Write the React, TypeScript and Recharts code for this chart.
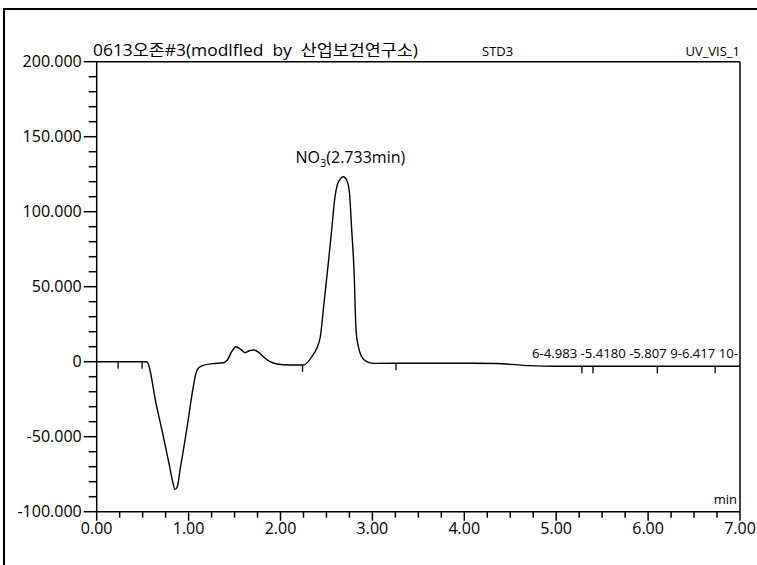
import React from 'react';
import { LineChart, Line, XAxis, YAxis, ReferenceLine, ReferenceDot, Customized } from 'recharts';

// Retention time (min)
const times = [
  0.0, 0.25, 0.5, 0.544, 0.653, 0.725, 0.798, 0.827, 0.852, 0.877, 0.907, 0.979, 1.051, 1.08, 1.105,
  1.16, 1.269, 1.378, 1.421, 1.469, 1.516, 1.567, 1.614, 1.66, 1.712, 1.763, 1.813, 1.886, 1.959,
  2.103, 2.248, 2.34, 2.43, 2.473, 2.52, 2.557, 2.593, 2.618, 2.647, 2.684, 2.72, 2.749, 2.775, 2.8,
  2.822, 2.847, 2.884, 2.938, 3.01, 3.5, 4.0, 4.35, 4.7, 5.0, 6.0, 7.0,
];
// Signal (mAU)
const signal = [
  0, 0, 0, 0, -30, -49.8, -71.3, -80, -85.1, -83.3, -72.2, -45.5, -16.7, -7.8, -4.4,
  -2.4, -1.3, -0.7, 1.1, 6.7, 10, 8.2, 6, 7.3, 7.8, 6.2, 3.3, 0, -1.5,
  -2.2, -2.2, 3.3, 15.6, 38.9, 65.6, 87.8, 110, 117.8, 121.6, 123.3, 121.1, 113.3, 87.8, 61.1,
  21.1, 10, 3.3, 0, -1.1, -1, -1, -1.2, -2.6, -3, -3, -3,
];

// Peak delimiter markers on the baseline
const markerTimes = [0.233, 0.494, 2.24, 3.257, 5.28, 5.4, 6.1, 6.73];
const markerValues = [0, 0, -2.2, -1, -3, -3, -3, -3];

const xTicks = Array.from({ length: 29 }, (_, i) => i * 0.25);
const yTicks = Array.from({ length: 31 }, (_, i) => -100 + i * 10);

const titleText = '0613오존#3(modlfled  by  산업보건연구소)';
const sampleText = 'STD3';
const channelText = 'UV_VIS_1';
const peakLabelText = '6-4.983 -5.4180 -5.807 9-6.417 10-';
const peakTime = 2.684;
const peakValue = 123.3;
const unitText = 'min';

const data = times.map((t, i) => ({ t, v: signal[i] }));

const FONT = "'Open Sans', 'Noto Sans CJK KR', sans-serif";

const XTick = (props: any) => {
  const { x, y, payload } = props;
  const v = payload.value;
  const major = Math.abs(v - Math.round(v)) < 1e-6;
  return (
    <g>
      <line x1={x} x2={x} y1={y} y2={y + (major ? 9 : 6)} stroke="#000" strokeWidth={1.5} />
      {major && (
        <text x={x} y={y + 22} textAnchor="middle" fontSize={16} fontFamily={FONT} fill="#000">
          {v.toFixed(2)}
        </text>
      )}
    </g>
  );
};

const YTick = (props: any) => {
  const { x, y, payload } = props;
  const v = payload.value;
  const major = Math.abs(v % 50) < 1e-6;
  return (
    <g>
      <line x1={x - (major ? 13 : 8)} x2={x} y1={y} y2={y} stroke="#000" strokeWidth={1.5} />
      {major && (
        <text x={x - 15} y={y} dy="0.35em" textAnchor="end" fontSize={16} fontFamily={FONT} fill="#000">
          {v === 0 ? '0' : v.toFixed(3)}
        </text>
      )}
    </g>
  );
};

const MarkerShape = (props: any) => {
  const { cx, cy } = props;
  return <line x1={cx} x2={cx} y1={cy} y2={cy + 7} stroke="#000" strokeWidth={1.3} />;
};

const PeakLabel = (props: any) => {
  const { viewBox } = props;
  const x = viewBox.x + 7;
  const y = viewBox.y - 14;
  return (
    <text x={x} y={y} textAnchor="middle" fontSize={16} fontFamily={FONT} fill="#000">
      <tspan>NO</tspan>
      <tspan fontSize={11} dy={4}>3</tspan>
      <tspan dy={-4}>(2.733min)</tspan>
    </text>
  );
};

const Texts = () => (
  <g fontFamily={FONT} fill="#000">
    <text x={93} y={56} fontSize={16} textLength={325} lengthAdjust="spacingAndGlyphs" style={{ whiteSpace: 'pre' }}>
      {titleText}
    </text>
    <text x={482} y={56} fontSize={13}>{sampleText}</text>
    <text x={740} y={56} fontSize={13} textAnchor="end">{channelText}</text>
    <text x={532} y={358} fontSize={12} textLength={206} lengthAdjust="spacingAndGlyphs">{peakLabelText}</text>
    <text x={737} y={504} fontSize={13} textAnchor="end">{unitText}</text>
  </g>
);

export default function App() {
  return (
    <div style={{ position: 'absolute', left: 0, top: 0, width: 757, height: 565, background: '#fff' }}>
      <div
        style={{
          position: 'absolute',
          left: 3,
          top: 8,
          width: 760,
          height: 560,
          borderLeft: '2px solid #000',
          borderTop: '2px solid #000',
          boxSizing: 'border-box',
        }}
      />
      <div style={{ position: 'absolute', left: 0, top: 0 }}>
        <LineChart width={757} height={565} data={data} margin={{ top: 61.7, right: 17, bottom: 23.3, left: 36.7 }}>
          <XAxis
            dataKey="t"
            type="number"
            domain={[0, 7]}
            ticks={xTicks}
            interval={0}
            height={30}
            tickSize={0}
            tickMargin={0}
            tickLine={false}
            axisLine={{ stroke: '#000', strokeWidth: 1.5 }}
            tick={<XTick />}
            allowDataOverflow
          />
          <YAxis
            type="number"
            domain={[-100, 200]}
            ticks={yTicks}
            interval={0}
            width={60}
            tickSize={0}
            tickMargin={0}
            tickLine={false}
            axisLine={{ stroke: '#000', strokeWidth: 1.5 }}
            tick={<YTick />}
            allowDataOverflow
          />
          <ReferenceLine y={200} stroke="#000" strokeWidth={1.5} />
          <ReferenceLine x={7} stroke="#000" strokeWidth={1.5} />
          <Line
            dataKey="v"
            type="monotone"
            stroke="#000"
            strokeWidth={1.4}
            dot={false}
            isAnimationActive={false}
          />
          {markerTimes.map((t, i) => (
            <ReferenceDot key={i} x={t} y={markerValues[i]} r={0} shape={<MarkerShape />} />
          ))}
          <ReferenceDot x={peakTime} y={peakValue} r={0} fill="none" stroke="none" label={<PeakLabel />} />
          <Customized component={Texts} />
        </LineChart>
      </div>
    </div>
  );
}
